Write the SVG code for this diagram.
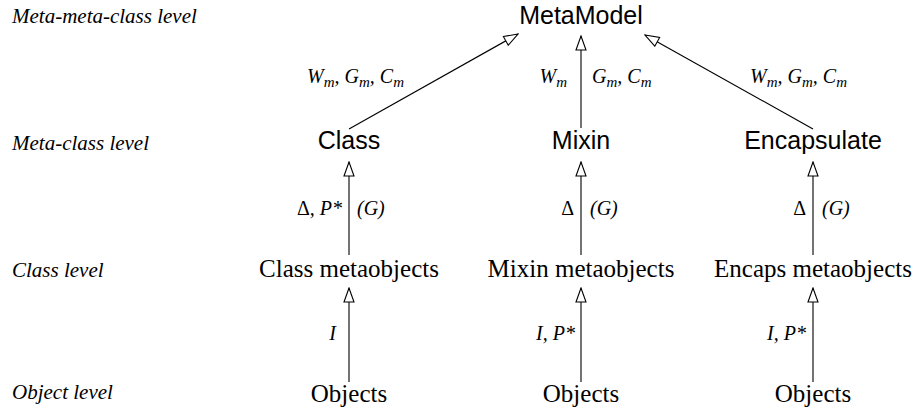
<svg xmlns="http://www.w3.org/2000/svg" width="917" height="413" viewBox="0 0 917 413">
<style>
.lvl{font-family:"Liberation Serif","Times New Roman",serif;font-style:italic;font-size:21px;fill:#000}
.meta{font-family:"Liberation Sans",Arial,sans-serif;font-size:25px;fill:#000;text-anchor:middle}
.inst{font-family:"Liberation Serif","Times New Roman",serif;font-size:25px;fill:#000;text-anchor:middle}
.lab{font-family:"Liberation Serif","Times New Roman",serif;font-style:italic;font-size:20px;fill:#000}
.up{font-style:normal}
.sub{font-size:15px}
.end{text-anchor:end}
.edge{stroke:#000;stroke-width:1.1;fill:none;marker-end:url(#open)}
</style>
<defs>
<marker id="open" markerUnits="userSpaceOnUse" markerWidth="16" markerHeight="12" refX="14" refY="5" orient="auto" viewBox="-1 -1 16 12">
<path d="M0,0 L14,5 L0,10 Z" fill="#fff" stroke="#000" stroke-width="1.1"/>
</marker>
</defs>
<g id="levels">
<text class="lvl" x="12" y="23">Meta-meta-class level</text>
<text class="lvl" x="12" y="150">Meta-class level</text>
<text class="lvl" x="12" y="277">Class level</text>
<text class="lvl" x="12" y="399">Object level</text>
</g>
<g id="connectors">
<path class="edge" d="M349,129 L518,34"/>
<path class="edge" d="M581,128 L581,36"/>
<path class="edge" d="M813,129 L645,35"/>
<path class="edge" d="M349,255 L349,162"/>
<path class="edge" d="M581,255 L581,162"/>
<path class="edge" d="M813,255 L813,162"/>
<path class="edge" d="M349,382 L349,288"/>
<path class="edge" d="M581,382 L581,288"/>
<path class="edge" d="M813,382 L813,288"/>
<text class="lab" x="307" y="83">W<tspan class="sub" dy="4">m</tspan><tspan dy="-4">, G</tspan><tspan class="sub" dy="4">m</tspan><tspan dy="-4">, C</tspan><tspan class="sub" dy="4">m</tspan></text>
<text class="lab end" x="567" y="83">W<tspan class="sub" dy="4">m</tspan></text>
<text class="lab" x="592" y="83">G<tspan class="sub" dy="4">m</tspan><tspan dy="-4">, C</tspan><tspan class="sub" dy="4">m</tspan></text>
<text class="lab" x="750" y="83">W<tspan class="sub" dy="4">m</tspan><tspan dy="-4">, G</tspan><tspan class="sub" dy="4">m</tspan><tspan dy="-4">, C</tspan><tspan class="sub" dy="4">m</tspan></text>
<text class="lab end" x="342" y="215"><tspan class="up">Δ</tspan>, P*</text>
<text class="lab" x="357" y="215">(G)</text>
<text class="lab end" x="574" y="215"><tspan class="up">Δ</tspan></text>
<text class="lab" x="590" y="215">(G)</text>
<text class="lab end" x="806" y="215"><tspan class="up">Δ</tspan></text>
<text class="lab" x="822" y="215">(G)</text>
<text class="lab end" x="336" y="340">I</text>
<text class="lab end" x="575" y="340">I, P*</text>
<text class="lab end" x="806" y="340">I, P*</text>
</g>
<g id="MetaModel"><text class="meta" x="581" y="24">MetaModel</text></g>
<g id="Class"><text class="meta" x="349" y="149">Class</text></g>
<g id="Mixin"><text class="meta" x="581" y="149">Mixin</text></g>
<g id="Encapsulate"><text class="meta" x="813" y="149">Encapsulate</text></g>
<g id="ClassMetaobjects"><text class="inst" x="349" y="277">Class metaobjects</text></g>
<g id="MixinMetaobjects"><text class="inst" x="581" y="277">Mixin metaobjects</text></g>
<g id="EncapsMetaobjects"><text class="inst" x="813" y="277">Encaps metaobjects</text></g>
<g id="ObjectsClass"><text class="inst" x="349" y="402">Objects</text></g>
<g id="ObjectsMixin"><text class="inst" x="581" y="402">Objects</text></g>
<g id="ObjectsEncaps"><text class="inst" x="813" y="402">Objects</text></g>
</svg>
